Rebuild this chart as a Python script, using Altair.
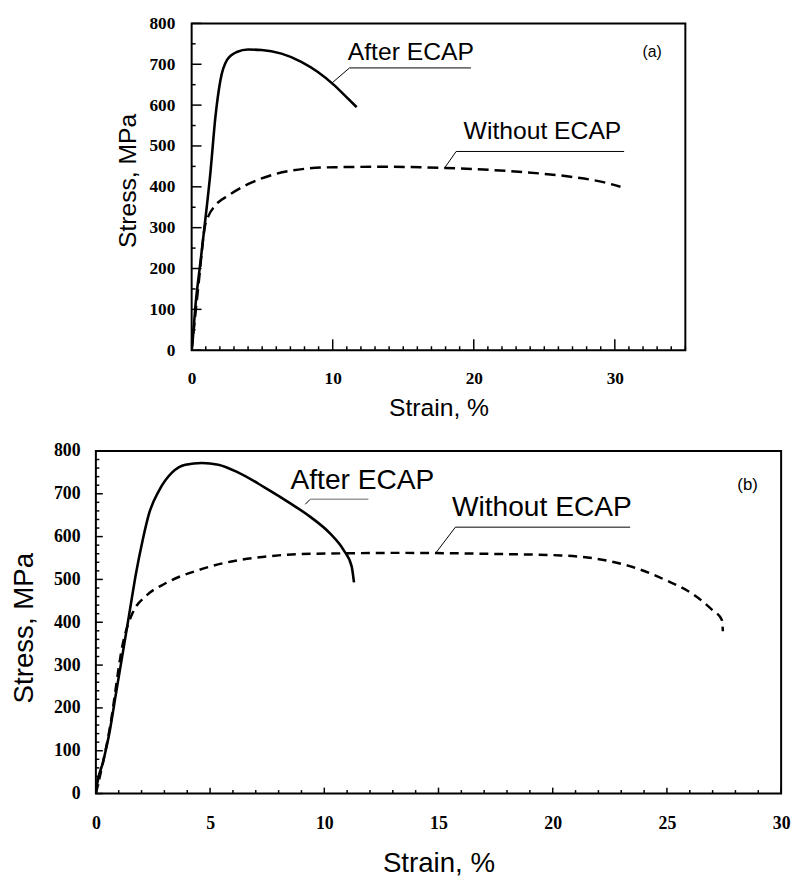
import altair as alt
import pandas as pd

# ---------------- Panel (a) data ----------------
a_after_strain = [0, 0.05, 0.28, 0.63, 0.98, 1.33, 1.69, 2.04, 2.5, 3.2, 4.0, 4.96, 6.37, 7.77, 8.95, 10.1, 11.05, 11.7]
a_after_stress = [0, 16, 113, 218, 323, 435, 573, 661, 710, 730, 736, 735, 726, 706, 681, 649, 617, 595]

a_without_strain = [0, 0.5, 0.95, 1.17, 1.69, 2.62, 4.03, 5.9, 8.0, 10.1, 13.4, 18.0, 23.5, 27.0, 29.1, 30.4]
a_without_stress = [0, 165, 305, 327, 355, 379, 407, 431, 444, 448, 449, 446, 436, 424, 412, 400]

a_x_major = [0, 10, 20, 30]
a_x_minor = [v for v in range(0, 36) if v % 10 != 0]
a_y_major = [0, 100, 200, 300, 400, 500, 600, 700, 800]
a_y_minor = [50, 150, 250, 350, 450, 550, 650, 750]

a_labels = ["After ECAP", "Without ECAP"]
a_label_x = [11.07, 19.28]
a_label_y = [710, 516]
a_lead_x = [11.19, 9.91, 18.75, 17.93]
a_lead_y = [691, 653, 486.5, 446]
a_lead_x2 = [19.8, 11.19, 30.66, 18.75]
a_lead_y2 = [691, 691, 486.5, 486.5]
a_tag = ["(a)"]
a_tag_x = [32.65]
a_tag_y = [718]

# ---------------- Panel (b) data ----------------
b_after_strain = [0, 0.03, 0.32, 0.6, 0.89, 1.18, 1.47, 1.76, 2.05, 2.33, 2.77, 3.34, 3.92, 4.64, 5.36, 6.22, 7.38, 8.53, 9.39, 10.26, 10.84, 11.2, 11.3]
b_after_stress = [0, 13, 75, 144, 237, 329, 422, 515, 592, 654, 708, 750, 768, 772, 768, 750, 715, 677, 646, 607, 569, 530, 493]

b_without_strain = [0, 0.6, 1.2, 1.61, 2.19, 3.05, 4.5, 5.94, 7.38, 8.82, 11.0, 13.1, 17.47, 20.35, 22.37, 23.5, 24.96, 26.1, 26.98, 27.4, 27.45]
b_without_stress = [0, 150, 355, 422, 461, 491, 522, 542, 553, 559, 561, 562, 559.5, 556, 544, 529, 498, 467, 429, 406, 379]

b_x_major = [0, 5, 10, 15, 20, 25, 30]
b_x_minor = [v for v in range(0, 31) if v % 5 != 0]
b_y_major = [0, 100, 200, 300, 400, 500, 600, 700, 800]
b_y_minor = [v for v in range(0, 801, 20) if v % 100 != 0]

b_labels = ["After ECAP", "Without ECAP"]
b_label_x = [8.52, 15.59]
b_label_y = [710, 648]
b_lead_x = [9.17, 15.74, 14.87]
b_lead_y = [675.5, 622, 561]
b_lead_x2 = [9.38, 23.39, 15.74]
b_lead_y2 = [687, 622, 622]
b_grey_x = [9.38]
b_grey_y = [687]
b_grey_x2 = [11.93]
b_grey_y2 = [687]
b_tag = ["(b)"]
b_tag_x = [28.53]
b_tag_y = [708]


def panel(after_x, after_y, wo_x, wo_y, xdom, xmaj, xmin, ymaj, ymin,
          labels, lx, ly, ldx, ldy, ldx2, ldy2, tag, tx, ty,
          width, height, lab_fs, title_fs, ann_fs, tag_fs, dash,
          ylabpad, xlabpad, ytitle_x, ytitle_y, xtitle_y,
          maj_x_len, min_x_len, maj_y_len, min_y_len,
          grey=None):
    ymax = 800
    xmax = xdom[1]
    xscale = alt.Scale(domain=xdom, nice=False, zero=False)
    yscale = alt.Scale(domain=[0, ymax], nice=False)
    common = dict(ticks=False, tickSize=0, domain=False, grid=False,
                  labelFont="Liberation Serif", labelFontWeight="bold",
                  labelFontSize=lab_fs, labelColor="black", labelFlush=False,
                  labelOverlap=False, format="d",
                  titleFont="Liberation Sans", titleFontWeight="normal",
                  titleFontSize=title_fs, titleColor="black")
    xaxis = alt.Axis(values=xmaj, labelPadding=xlabpad, titleY=xtitle_y,
                     titleBaseline="alphabetic", **common)
    yaxis = alt.Axis(values=ymaj, labelPadding=ylabpad, titleX=ytitle_x,
                     titleY=ytitle_y, titleAngle=270, titleAlign="center",
                     titleBaseline="alphabetic", **common)

    def X(field):
        return alt.X(field, type="quantitative", scale=xscale, axis=xaxis, title="Strain, %")

    def Y(field):
        return alt.Y(field, type="quantitative", scale=yscale, axis=yaxis, title="Stress, MPa")

    # inward tick segments as two-point line pieces (lengths converted from px to data units)
    tid, tk, txs, tys = [], [], [], []
    n = 0
    for vals, ln in ((xmaj, maj_x_len), (xmin, min_x_len)):
        for v in vals:
            tid += [n, n]; tk += [0, 1]
            txs += [float(v), float(v)]
            tys += [0.0, ln * ymax / height]
            n += 1
    for vals, ln in ((ymaj, maj_y_len), (ymin, min_y_len)):
        for v in vals:
            tid += [n, n]; tk += [0, 1]
            txs += [0.0, ln * xmax / width]
            tys += [float(v), float(v)]
            n += 1
    ticks = pd.DataFrame({"id": tid, "k": tk, "s": txs, "t": tys})

    layers = []
    # ticks
    layers.append(alt.Chart(ticks).mark_line(color="black", strokeWidth=1.5, strokeCap="butt").encode(
        x=X("s"), y=Y("t"), detail="id:N", order=alt.Order("k:Q")))

    # curves
    layers.append(alt.Chart(pd.DataFrame({"s": wo_x, "t": wo_y})).mark_line(
        color="black", strokeWidth=2.5, strokeDash=dash, interpolate="monotone", clip=True
    ).encode(x=X("s"), y=Y("t"), order=alt.Order("s:Q")))
    layers.append(alt.Chart(pd.DataFrame({"s": after_x, "t": after_y})).mark_line(
        color="black", strokeWidth=2.6, interpolate="monotone", clip=True
    ).encode(x=X("s"), y=Y("t"), order=alt.Order("s:Q")))

    # leader lines
    layers.append(alt.Chart(pd.DataFrame({"x": ldx, "y": ldy, "x2": ldx2, "y2": ldy2})).mark_rule(
        color="black", strokeWidth=1
    ).encode(x=X("x"), y=Y("y"), x2="x2:Q", y2="y2:Q"))
    if grey is not None:
        gx, gy, gx2, gy2 = grey
        layers.append(alt.Chart(pd.DataFrame({"x": gx, "y": gy, "x2": gx2, "y2": gy2})).mark_rule(
            color="#9a9a9a", strokeWidth=1.5
        ).encode(x=X("x"), y=Y("y"), x2="x2:Q", y2="y2:Q"))

    # annotation text
    layers.append(alt.Chart(pd.DataFrame({"x": lx, "y": ly, "t": labels})).mark_text(
        align="left", baseline="alphabetic", font="Liberation Sans", fontSize=ann_fs, color="black"
    ).encode(x=X("x"), y=Y("y"), text="t:N"))
    layers.append(alt.Chart(pd.DataFrame({"x": tx, "y": ty, "t": tag})).mark_text(
        align="center", baseline="alphabetic", font="Liberation Sans", fontSize=tag_fs, color="black"
    ).encode(x=X("x"), y=Y("y"), text="t:N"))

    return alt.layer(*layers).properties(width=width, height=height)


pa = panel(a_after_strain, a_after_stress, a_without_strain, a_without_stress,
           [0, 35], a_x_major, a_x_minor, a_y_major, a_y_minor,
           a_labels, a_label_x, a_label_y, a_lead_x, a_lead_y, a_lead_x2, a_lead_y2,
           a_tag, a_tag_x, a_tag_y,
           width=500, height=331, lab_fs=17.5, title_fs=25, ann_fs=25, tag_fs=16,
           dash=[11, 6], ylabpad=17, xlabpad=20, ytitle_x=-57, ytitle_y=159,
           xtitle_y=66, maj_x_len=11, min_x_len=4, maj_y_len=10, min_y_len=4)

pb = panel(b_after_strain, b_after_stress, b_without_strain, b_without_stress,
           [0, 30], b_x_major, b_x_minor, b_y_major, b_y_minor,
           b_labels, b_label_x, b_label_y, b_lead_x, b_lead_y, b_lead_x2, b_lead_y2,
           b_tag, b_tag_x, b_tag_y,
           width=694, height=347, lab_fs=18, title_fs=28, ann_fs=28.5, tag_fs=17,
           dash=[9, 6], ylabpad=16, xlabpad=21, ytitle_x=-64, ytitle_y=179,
           xtitle_y=79, maj_x_len=6, min_x_len=3.5, maj_y_len=7, min_y_len=3.5,
           grey=(b_grey_x, b_grey_y, b_grey_x2, b_grey_y2))

chart = alt.vconcat(pa, pb, spacing=102, bounds="flush", center=True).properties(
    padding={"left": 2, "top": 0, "right": 0, "bottom": 0},
    background="white"
).configure_view(stroke="black", strokeWidth=2)

chart.save("out.html", embed_options={"renderer": "svg", "actions": False})
